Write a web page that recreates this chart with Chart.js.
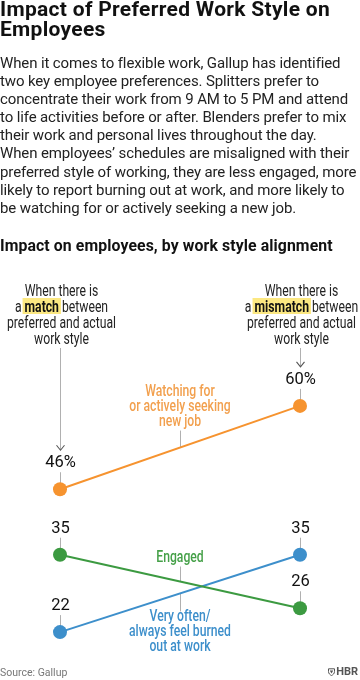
<!DOCTYPE html>
<html>
<head>
<meta charset="utf-8">
<script src="https://cdn.jsdelivr.net/npm/chart.js@4.4.1/dist/chart.umd.min.js"></script>
<style>
  html,body{margin:0;padding:0;background:#fff;}
  body{width:360px;height:680px;overflow:hidden;position:relative;font-family:Roboto,"Liberation Sans",sans-serif;color:#1a1a1a;}
  #chart{position:absolute;left:0;top:0;}
  .t{position:absolute;left:0;white-space:nowrap;}
  #title{top:-1px;font-weight:700;font-size:21px;line-height:20px;color:#111;letter-spacing:0.3px;}
  #para{top:54px;font-size:15px;line-height:18.1px;color:#222;letter-spacing:-0.12px;}
  #sub{top:237px;font-weight:700;font-size:15.8px;line-height:18px;color:#111;letter-spacing:0.1px;}
  #src{top:667px;font-size:10.5px;line-height:12px;color:#777;}
  #hbr{position:absolute;top:665px;right:2px;font-weight:700;font-size:11px;line-height:13px;color:#555;display:flex;align-items:center;gap:1px;}
</style>
</head>
<body>
<canvas id="chart" width="360" height="680"></canvas>
<div class="t" id="title">Impact of Preferred Work Style on<br>Employees</div>
<div class="t" id="para">When it comes to flexible work, Gallup has identified<br>two key employee preferences. Splitters prefer to<br>concentrate their work from 9 AM to 5 PM and attend<br>to life activities before or after. Blenders prefer to mix<br>their work and personal lives throughout the day.<br>When employees’ schedules are misaligned with their<br>preferred style of working, they are less engaged, more<br>likely to report burning out at work, and more likely to<br>be watching for or actively seeking a new job.</div>
<div class="t" id="sub">Impact on employees, by work style alignment</div>
<div class="t" id="src">Source: Gallup</div>
<div id="hbr"><svg width="7" height="8" viewBox="0 0 7 8"><path d="M0.5 0.8 H6.5 V3.5 C6.5 5.6 5 6.8 3.5 7.5 C2 6.8 0.5 5.6 0.5 3.5 Z" fill="none" stroke="#555" stroke-width="1"/><path d="M1.8 2.5 H5.2 L3.5 5.5 Z" fill="#555"/></svg><span>HBR</span></div>
<script>
// ---- data ----
const categories = ['Match', 'Mismatch'];
const categoryNotes = ['match', 'mismatch'];
const seekingJob = [46, 60];
const engaged = [35, 26];
const burnedOut = [22, 35];
const seriesLabels = [
  ['Watching for', 'or actively seeking', 'new job'],
  ['Engaged'],
  ['Very often/', 'always feel burned', 'out at work']
];
const valueSuffix = ['%', '', ''];

const COLORS = ['#f6932f', '#3c9a41', '#3d8fcb'];
const LABEL_COLORS = ['#f2a04e', '#45a048', '#3d8fcb'];
const GRAY = '#b0b0b0';
const FONT_FAMILY = 'Roboto, "Liberation Sans", sans-serif';
const ANN_SIZE = 16;

let condScale = 0.8;
function condText(ctx, str, x, y, font, color, align) {
  ctx.save();
  ctx.font = font;
  ctx.fillStyle = color;
  ctx.textAlign = align || 'center';
  ctx.textBaseline = 'alphabetic';
  ctx.translate(x, y);
  ctx.scale(condScale, 1);
  ctx.fillText(str, 0, 0);
  ctx.restore();
}
function vline(ctx, x, y1, y2, color) {
  ctx.save();
  ctx.strokeStyle = color || GRAY;
  ctx.lineWidth = 1;
  ctx.beginPath();
  ctx.moveTo(Math.round(x) + 0.5, y1);
  ctx.lineTo(Math.round(x) + 0.5, y2);
  ctx.stroke();
  ctx.restore();
}
function chevron(ctx, x, tipY) {
  ctx.save();
  ctx.strokeStyle = '#555';
  ctx.lineWidth = 1.1;
  ctx.beginPath();
  const cx = Math.round(x) + 0.5;
  ctx.moveTo(cx - 4, tipY - 5);
  ctx.lineTo(cx, tipY);
  ctx.lineTo(cx + 4, tipY - 5);
  ctx.stroke();
  ctx.restore();
}

const annotPlugin = {
  id: 'annot',
  beforeDatasetsDraw(chart) {
    const ctx = chart.ctx;
    const xs = chart.scales.x, ys = chart.scales.y;
    ctx.save();
    ctx.font = ANN_SIZE + 'px ' + FONT_FAMILY;
    condScale = 109 / ctx.measureText('preferred and actual').width;
    ctx.restore();
    const allSeries = [seekingJob, engaged, burnedOut];
    allSeries.forEach((arr) => {
      arr.forEach((v, i) => {
        const px = xs.getPixelForValue(i), py = ys.getPixelForValue(v);
        vline(ctx, px, py - 17, py - 5);
      });
    });
    seekingJob.forEach((v, i) => {
      const px = xs.getPixelForValue(i), py = ys.getPixelForValue(v);
      vline(ctx, px, 348, py - 39);
      chevron(ctx, px, py - 39);
    });
    const mx = (xs.getPixelForValue(0) + xs.getPixelForValue(1)) / 2;
    const mid = arr => (ys.getPixelForValue(arr[0]) + ys.getPixelForValue(arr[1])) / 2;
    vline(ctx, mx, mid(seekingJob) - 17, mid(seekingJob));
    vline(ctx, mx, mid(engaged) - 15, mid(engaged));
    vline(ctx, mx, mid(burnedOut), mid(burnedOut) + 18);
  },
  afterDatasetsDraw(chart) {
    const ctx = chart.ctx;
    const xs = chart.scales.x, ys = chart.scales.y;
    const allSeries = [seekingJob, engaged, burnedOut];
    allSeries.forEach((arr, s) => {
      arr.forEach((v, i) => {
        const px = xs.getPixelForValue(i), py = ys.getPixelForValue(v);
        ctx.save();
        ctx.font = '16.5px ' + FONT_FAMILY;
        ctx.fillStyle = '#111';
        ctx.textAlign = 'center';
        ctx.fillText(v + valueSuffix[s], px + 0.5, py - 22);
        ctx.restore();
      });
    });
    const reg = ANN_SIZE + 'px ' + FONT_FAMILY;
    const bold = '700 ' + ANN_SIZE + 'px ' + FONT_FAMILY;
    categoryNotes.forEach((word, i) => {
      const cx = xs.getPixelForValue(i) + 1.5;
      condText(ctx, 'When there is', cx, 295.5, reg, '#222');
      ctx.save();
      ctx.font = reg; const wa = ctx.measureText('a ').width * condScale;
      const wb = ctx.measureText(' between').width * condScale;
      ctx.font = bold; const wm = ctx.measureText(word).width * condScale;
      ctx.restore();
      const x0 = cx - (wa + wm + wb) / 2;
      ctx.save();
      ctx.fillStyle = '#fce882';
      ctx.fillRect(x0 + wa - 2, 298, wm + 4, 16);
      ctx.restore();
      condText(ctx, 'a ', x0, 311.5, reg, '#222', 'left');
      condText(ctx, word, x0 + wa, 311.5, bold, '#111', 'left');
      condText(ctx, ' between', x0 + wa + wm, 311.5, reg, '#222', 'left');
      condText(ctx, 'preferred and actual', cx, 327.5, reg, '#222');
      condText(ctx, 'work style', cx, 343.5, reg, '#222');
    });
    const mx = (xs.getPixelForValue(0) + xs.getPixelForValue(1)) / 2;
    const mid = arr => (ys.getPixelForValue(arr[0]) + ys.getPixelForValue(arr[1])) / 2;
    const lf = '500 ' + ANN_SIZE + 'px ' + FONT_FAMILY;
    const m0 = mid(seekingJob);
    seriesLabels[0].forEach((t, k) => condText(ctx, t, mx, m0 - 21.5 - (2 - k) * 15, lf, LABEL_COLORS[0]));
    const m1 = mid(engaged);
    seriesLabels[1].forEach((t) => condText(ctx, t, mx, m1 - 20, lf, LABEL_COLORS[1]));
    const m2 = mid(burnedOut);
    seriesLabels[2].forEach((t, k) => condText(ctx, t, mx, m2 + 28 + k * 15, lf, LABEL_COLORS[2]));
  }
};

function ds(data, c) {
  return {
    data: data,
    borderColor: c,
    backgroundColor: c,
    pointBackgroundColor: c,
    pointBorderColor: c,
    pointBorderWidth: 0,
    pointRadius: 7,
    borderWidth: 2,
    tension: 0,
    clip: false
  };
}

new Chart(document.getElementById('chart'), {
  type: 'line',
  data: {
    labels: categories,
    datasets: [ds(seekingJob, COLORS[0]), ds(engaged, COLORS[1]), ds(burnedOut, COLORS[2])]
  },
  options: {
    responsive: false,
    animation: false,
    events: [],
    layout: { padding: { left: 60, right: 60, top: 394, bottom: 36 } },
    plugins: { legend: { display: false }, tooltip: { enabled: false } },
    scales: {
      x: { display: false, offset: false },
      y: { display: false, min: 20, max: 62 }
    }
  },
  plugins: [annotPlugin]
});
</script>
</body>
</html>
